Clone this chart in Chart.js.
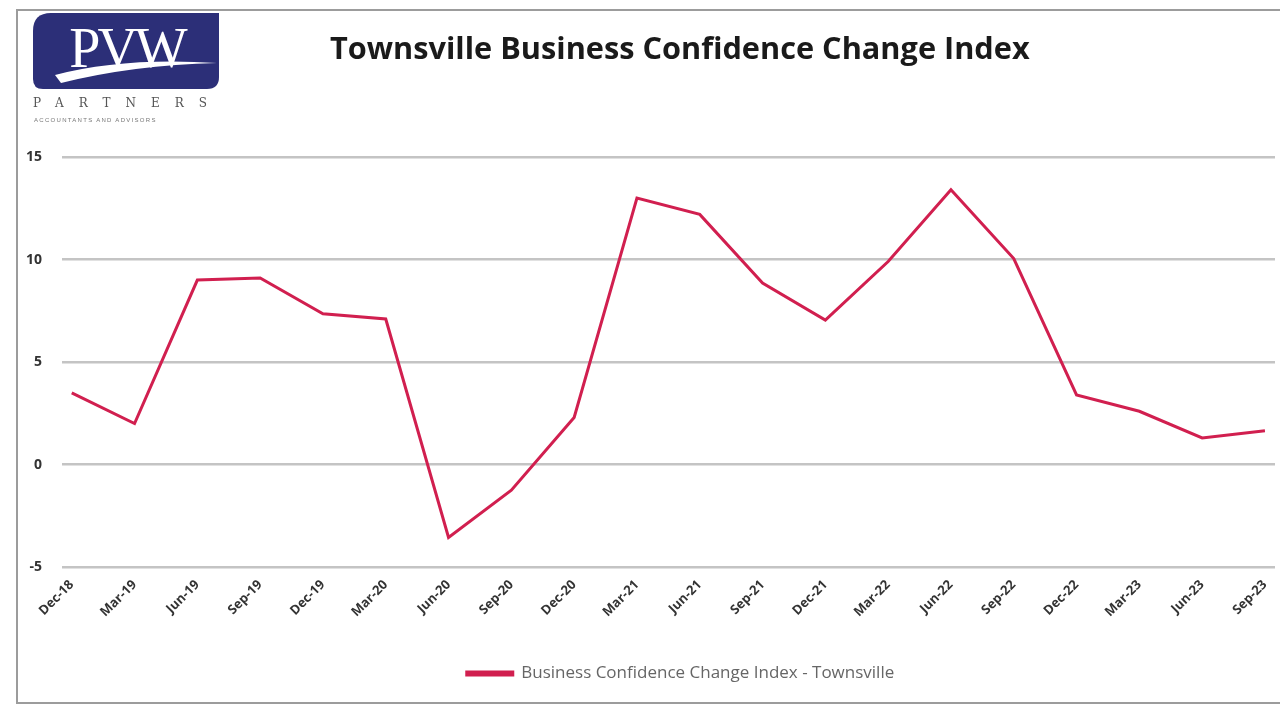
<!DOCTYPE html>
<html>
<head>
<meta charset="utf-8">
<title>Townsville Business Confidence Change Index</title>
<script src="https://cdn.jsdelivr.net/npm/chart.js@4.4.0/dist/chart.umd.min.js"></script>
<style>
    html, body { margin: 0; padding: 0; background: #fff; }
    #page { position: relative; width: 1280px; height: 720px; overflow: hidden; background: #fff; }
    #frame { position: absolute; left: 16px; top: 9px; width: 1300px; height: 695px; border: 2px solid #9c9c9c; box-sizing: border-box; }
    #chartBox { position: absolute; left: 0; top: 0; width: 1280px; height: 720px; }
    #title { position: absolute; left: 330px; top: 28px; font-family: 'Open Sans', Lato, sans-serif; font-weight: 700; font-size: 30px; line-height: 40px; color: #1a1a1a; white-space: nowrap; transform-origin: 0 0; }
    #logo { position: absolute; left: 33px; top: 13px; width: 186px; }
    .partners { position: absolute; left: 0; top: 83px; width: 186px; font-family: 'DejaVu Serif', serif; font-size: 12px; color: #555; letter-spacing: 15px; white-space: nowrap; }
    .advisors { position: absolute; left: 1px; top: 104px; width: 186px; font-family: 'Liberation Sans', sans-serif; font-size: 6px; color: #777; letter-spacing: 1.3px; white-space: nowrap; }
</style>
</head>
<body>
<div id="page">
    <div id="frame"></div>
    <div id="chartBox"><canvas id="confidenceChart" width="1280" height="720"></canvas></div>
    <div id="logo">
        <svg width="186" height="78" viewBox="0 0 186 78">
            <path d="M18 0 H186 V64 Q186 76 174 76 H10 Q0 76 0 66 V18 Q0 0 18 0 Z" fill="#2c2f78"/>
            <path d="M22 62 Q90 44 184 50 Q100 52 28 70 Z" fill="#ffffff"/>
            <text x="94" y="54" text-anchor="middle" font-family="'Liberation Serif', 'DejaVu Serif', serif" font-size="56" fill="#ffffff" letter-spacing="-3">PVW</text>
        </svg>
        <div class="partners">PARTNERS</div>
        <div class="advisors">ACCOUNTANTS AND ADVISORS</div>
    </div>
    <div id="title">Townsville Business Confidence Change Index</div>
</div>
<script>
const quarterLabels = ['Dec-18', 'Mar-19', 'Jun-19', 'Sep-19', 'Dec-19', 'Mar-20', 'Jun-20', 'Sep-20', 'Dec-20', 'Mar-21',
    'Jun-21', 'Sep-21', 'Dec-21', 'Mar-22', 'Jun-22', 'Sep-22', 'Dec-22', 'Mar-23', 'Jun-23', 'Sep-23'];
const confidenceValues = [3.5, 2.0, 9.0, 9.1, 7.35, 7.1, -3.55, -1.25, 2.3, 13.0,
    12.2, 8.85, 7.05, 9.9, 13.4, 10.05, 3.4, 2.6, 1.3, 1.65];
const seriesName = 'Business Confidence Change Index - Townsville';
const yMin = -5;
const yMax = 15;
const yStep = 5;

// the source image is stretched sideways, so stretch the title to the same width
const titleEl = document.getElementById('title');
titleEl.style.transform = 'scaleX(' + (700 / titleEl.offsetWidth) + ')';

const points = confidenceValues.map((v, i) => ({ x: i, y: v }));

// legend sits a bit right of centre in the original
const legendShift = {
    id: 'legendShift',
    afterLayout(chart) {
        if (!chart.legend) return;
        chart.legend.left += 40;
        chart.legend.right += 40;
    }
};

const ctx = document.getElementById('confidenceChart').getContext('2d');
new Chart(ctx, {
    type: 'line',
    data: {
        datasets: [{
            label: seriesName,
            data: points,
            borderColor: '#d11f4f',
            backgroundColor: '#d11f4f',
            borderWidth: 3,
            pointRadius: 0,
            tension: 0
        }]
    },
    options: {
        responsive: false,
        animation: false,
        layout: { padding: { left: 6, right: 5, top: 157, bottom: 28 } },
        plugins: {
            legend: {
                position: 'bottom',
                labels: {
                    boxWidth: 46,
                    boxHeight: 3,
                    padding: 24,
                    color: '#666',
                    font: { family: '"Open Sans", Lato, sans-serif', size: 17 }
                }
            },
            title: { display: false },
            tooltip: { enabled: false }
        },
        scales: {
            x: {
                type: 'linear',
                min: -0.155,
                max: 19.16,
                grid: { display: false },
                border: { display: false },
                afterFit: (scale) => { scale.height += 19; },
                ticks: {
                    stepSize: 1,
                    includeBounds: false,
                    autoSkip: false,
                    minRotation: 45,
                    maxRotation: 45,
                    padding: 2,
                    color: '#333',
                    font: { family: '"Open Sans", Lato, sans-serif', size: 13, weight: 'bold' },
                    callback: (value) => quarterLabels[value]
                }
            },
            y: {
                min: yMin,
                max: yMax,
                grid: { color: '#c4c4c4', lineWidth: 2.5, drawTicks: false },
                border: { display: false },
                ticks: {
                    stepSize: yStep,
                    padding: 20,
                    color: '#333',
                    font: { family: '"Open Sans", Lato, sans-serif', size: 14, weight: 'bold' }
                }
            }
        }
    },
    plugins: [legendShift]
});
</script>
</body>
</html>
